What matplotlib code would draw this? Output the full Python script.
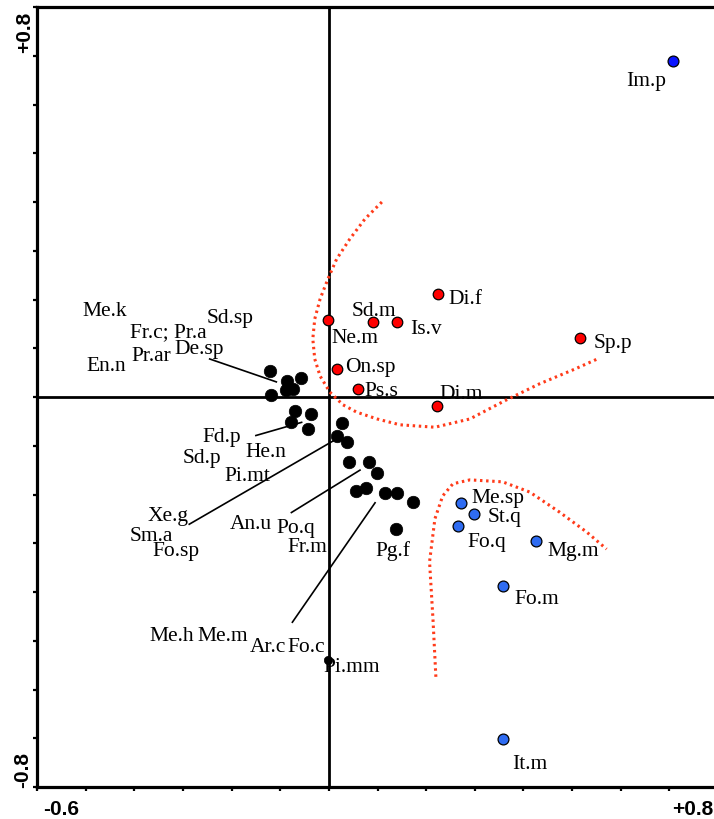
import matplotlib
matplotlib.use("Agg")
import matplotlib.pyplot as plt

# ---- ordination scores -------------------------------------------------
red_names = ["Ne.m", "Sd.m", "Is.v", "Di.f", "On.sp", "Ps.s", "Di.m", "Sp.p"]
red_x = [-0.001, 0.090, 0.141, 0.224, 0.017, 0.060, 0.223, 0.517]
red_y = [0.157, 0.153, 0.153, 0.211, 0.057, 0.016, -0.018, 0.121]

blue_names = ["Im.p", "Me.sp", "St.q", "Fo.q", "Mg.m", "Fo.m", "It.m"]
blue_x = [0.708, 0.271, 0.298, 0.266, 0.425, 0.358, 0.357]
blue_y = [0.689, -0.218, -0.239, -0.264, -0.295, -0.388, -0.702]

black_x = [-0.121, -0.086, -0.058, -0.119, -0.089, -0.073,
           -0.070, -0.037, -0.077, -0.043,
           0.026, 0.017, 0.038,
           0.041, 0.083, 0.099,
           0.055, 0.077, 0.115, 0.140, 0.172,
           0.138]
black_y = [0.054, 0.033, 0.040, 0.004, 0.014, 0.016,
           -0.028, -0.035, -0.051, -0.066,
           -0.053, -0.079, -0.092,
           -0.134, -0.134, -0.156,
           -0.192, -0.187, -0.196, -0.196, -0.216,
           -0.271]
# species sitting right on the second axis
pimm_x, pimm_y = -0.002, -0.540

black_labels = ["Me.k", "Sd.sp", "Fr.c; Pr.a", "De.sp", "Pr.ar", "En.n",
                "Fd.p", "He.n", "Sd.p", "Pi.mt", "Xe.g", "Sm.a", "Fo.sp",
                "An.u", "Po.q", "Fr.m", "Pg.f",
                "Me.h", "Me.m", "Ar.c", "Fo.c", "Pi.mm"]

# group envelopes
env1_x = [0.109, 0.074, 0.043, 0.016, -0.002, -0.018, -0.029, -0.033, -0.029,
          -0.018, 0.002, 0.029, 0.057, 0.099, 0.146, 0.218, 0.290, 0.361,
          0.433, 0.505, 0.552]
env1_y = [0.400, 0.365, 0.324, 0.283, 0.242, 0.201, 0.160, 0.119, 0.078,
          0.043, 0.010, -0.016, -0.031, -0.045, -0.057, -0.062, -0.045,
          -0.008, 0.027, 0.057, 0.078]
env2_x = [0.220, 0.214, 0.207, 0.218, 0.234, 0.255, 0.290, 0.357, 0.413,
          0.474, 0.530, 0.571]
env2_y = [-0.574, -0.455, -0.338, -0.250, -0.203, -0.178, -0.170, -0.174,
          -0.195, -0.236, -0.277, -0.312]

# ---- label layout (data units) -----------------------------------------
red_lab_pos = {
    "Ne.m": (0.006, 0.113, "left"), "Sd.m": (0.093, 0.168, "center"),
    "Is.v": (0.167, 0.131, "left"), "Di.f": (0.245, 0.193, "left"),
    "On.sp": (0.033, 0.053, "left"), "Ps.s": (0.074, 0.004, "left"),
    "Di.m": (0.228, -0.002, "left"), "Sp.p": (0.545, 0.103, "left"),
}
blue_lab_pos = {
    "Im.p": (0.693, 0.640, "right"), "Me.sp": (0.294, -0.215, "left"),
    "St.q": (0.327, -0.254, "left"), "Fo.q": (0.284, -0.306, "left"),
    "Mg.m": (0.450, -0.324, "left"), "Fo.m": (0.382, -0.423, "left"),
    "It.m": (0.376, -0.761, "left"),
}
black_lab_pos = [(-0.506, 0.168), (-0.251, 0.154), (-0.409, 0.125),
                 (-0.317, 0.090), (-0.405, 0.076), (-0.498, 0.055),
                 (-0.259, -0.090), (-0.171, -0.121), (-0.300, -0.133),
                 (-0.214, -0.170), (-0.372, -0.252), (-0.409, -0.293),
                 (-0.362, -0.324), (-0.204, -0.269), (-0.107, -0.277),
                 (-0.086, -0.316), (0.095, -0.324),
                 (-0.368, -0.498), (-0.271, -0.498), (-0.162, -0.521),
                 (-0.086, -0.521), (-0.012, -0.562)]
leaders = [((-0.245, 0.078), (-0.108, 0.031)),
           ((-0.150, -0.079), (-0.056, -0.052)),
           ((-0.287, -0.261), (0.009, -0.090)),
           ((-0.077, -0.237), (0.064, -0.150)),
           ((0.095, -0.217), (-0.075, -0.462))]

W, H = 714, 820
fig = plt.figure(figsize=(W / 100, H / 100), dpi=100)
left, right, top, bottom = 37, 718, 8, 788
ax = fig.add_axes([left / W, (H - bottom) / H, (right - left) / W, (bottom - top) / H])
ax.set_xlim(-0.6, 0.8)
ax.set_ylim(-0.8, 0.8)

for s in ["left", "top", "bottom", "right"]:
    ax.spines[s].set_linewidth(2.3)
ax.set_xticks([i / 10 for i in range(-6, 9)])
ax.set_yticks([i / 10 for i in range(-8, 9)])
ax.tick_params(direction="out", length=3, width=1.6, labelbottom=False,
               labelleft=False)

ax.axhline(0, color="black", lw=2.0, zorder=1)
ax.axvline(0, color="black", lw=2.0, zorder=1)

dot_style = dict(linestyle=(0, (0.8, 1.2)), color="#ff3b1a", lw=2.2, zorder=2,
                 dash_capstyle="butt")
ax.plot(env1_x, env1_y, **dot_style)
ax.plot(env2_x, env2_y, **dot_style)

ax.plot(black_x, black_y, "o", ms=9, color="black", mec="black", mew=0.5, zorder=3)
ax.plot([pimm_x], [pimm_y], "o", ms=6, color="black", mec="black", mew=0.5, zorder=3)
ax.plot(red_x, red_y, "o", ms=7.6, color="#ff0000", mec="black", mew=0.9, zorder=3)
ax.plot(blue_x[:1], blue_y[:1], "o", ms=7.8, color="#0a14ff", mec="black", mew=0.9, zorder=3)
ax.plot(blue_x[1:], blue_y[1:], "o", ms=7.8, color="#2f6cf2", mec="black", mew=0.9, zorder=3)

serif = dict(family=["Liberation Serif", "DejaVu Serif"], fontsize=15.5, zorder=4,
             va="baseline")
for n in red_names:
    x, y, ha = red_lab_pos[n]
    ax.text(x, y, n, ha=ha, **serif)
for n in blue_names:
    x, y, ha = blue_lab_pos[n]
    ax.text(x, y, n, ha=ha, **serif)
for n, (x, y) in zip(black_labels, black_lab_pos):
    ax.text(x, y, n, ha="left", **serif)
for (x0, y0), (x1, y1) in leaders:
    ax.plot([x0, x1], [y0, y1], color="black", lw=1.2, zorder=2)

bold = dict(family=["Liberation Sans", "DejaVu Sans"], fontsize=15, fontweight="bold")
fig.text(43 / W, 1 - 800 / H, "-0.6", ha="left", va="top", **bold)
fig.text(713 / W, 1 - 800 / H, "+0.8", ha="right", va="top", **bold)
fig.text(25 / W, 1 - 12 / H, "+0.8", ha="center", va="top", rotation=90, **bold)
fig.text(23 / W, 1 - 788 / H, "-0.8", ha="center", va="bottom", rotation=90, **bold)

fig.savefig("out.png", dpi=100)
